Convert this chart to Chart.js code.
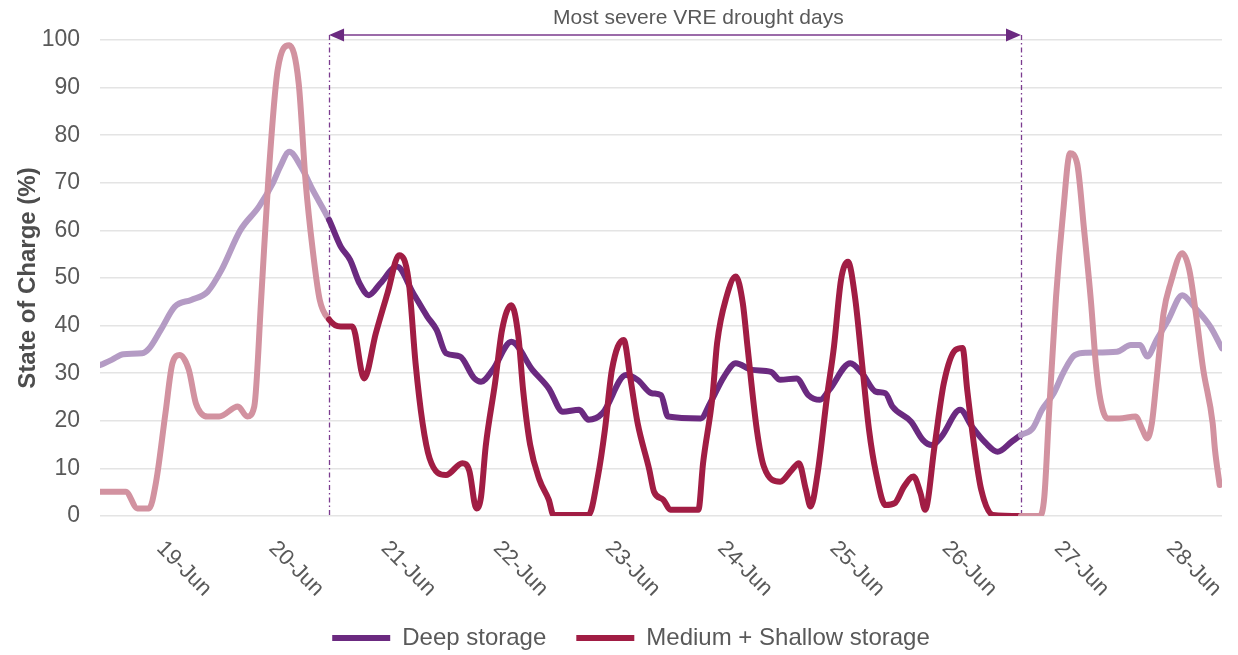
<!DOCTYPE html>
<html lang="en">
<head>
  <meta charset="UTF-8" />
  <title>Storage State of Charge</title>
  <script src="https://cdn.jsdelivr.net/npm/chart.js"></script>
  <style>
    body { margin: 0; background: #fff; }
    #wrap { width: 1238px; height: 655px; }
  </style>
</head>
<body>
  <div id="wrap"><canvas id="socChart"></canvas></div>

  <script>
    // x values are hours since the start of the window (18-Jun midday)
    const dayLabels = ['19-Jun', '20-Jun', '21-Jun', '22-Jun', '23-Jun', '24-Jun', '25-Jun', '26-Jun', '27-Jun', '28-Jun'];
    const dayTickHours = [12, 36, 60, 84, 108, 132, 156, 180, 204, 228];
    const yTicks = [0, 10, 20, 30, 40, 50, 60, 70, 80, 90, 100];

    const droughtStart = 49;
    const droughtEnd = 197;
    const droughtText = 'Most severe VRE drought days';
    const droughtTextHour = 128;

    const deepHours = [0, 2.5, 5, 9, 10.5, 13, 16, 19.5, 23, 26, 30, 34, 37, 38.5, 40.5, 43, 45.5, 49, 51.5, 53.5,
      55.5, 57.5, 60, 63.5, 67, 70, 72, 74, 77, 80, 81.5, 84, 88, 92.5, 96, 99, 102.5, 104.5, 107.5, 112.5,
      115, 118, 120, 121.5, 128.5, 130.5, 133.5, 136, 139.5, 143.5, 145.5, 149, 151.5, 154, 156, 160.5, 163, 166, 168, 169.5,
      173.5, 176, 178, 180, 184, 186.5, 189.5, 192, 195, 197, 199.5, 201.5, 204, 206, 208.5, 211, 217.5, 220.5, 222.5, 224,
      226, 228.5, 231.5, 234, 237.5, 240];
    const deepValues = [31.7, 32.8, 34, 34.2, 35.2, 39.1, 44, 45.4, 47.1, 51.7, 60, 65, 70, 73.3, 76.5, 73.4, 68.5, 62.2, 56.6, 53.8,
      48.9, 46.4, 48.9, 52.4, 46.8, 41.9, 39.1, 34.2, 33.5, 29, 28.2, 30.7, 36.6, 30.7, 26.8, 21.9, 22.3, 20.2, 21.6, 29.6,
      28.6, 25.8, 25.4, 20.9, 20.5, 23.7, 29.3, 32.1, 30.7, 30.3, 28.6, 28.9, 25.4, 24.4, 26.5, 32.1, 30, 26.1, 25.8, 23,
      19.8, 16, 14.9, 16.7, 22.3, 18.8, 15.3, 13.5, 15.6, 17, 18.4, 22.3, 25.8, 30, 33.8, 34.3, 34.5, 35.9, 35.9, 33.5,
      37, 41.2, 46.4, 44, 39.8, 35.2];

    const msHours = [0, 5.5, 8, 10.5, 12, 14, 15.5, 17, 19, 20.5, 23, 25.5, 29.5, 31.5, 33, 34.5, 36, 38, 40.5, 42.5,
      44, 45.5, 47, 49, 51.5, 54, 56.5, 59, 61.5, 64, 66, 67.5, 69, 70.5, 74, 77.5, 79, 80.5, 81.5, 82.5,
      84.5, 86, 88, 89.5, 90.5, 92, 94, 96, 97, 104.5, 106.5, 108, 109.5, 112, 113.5, 115, 117.5, 118.5, 120.5, 122,
      128, 129, 131, 132, 134, 136, 137.5, 138.5, 140.5, 142, 145.5, 148, 149.5, 151, 152, 153.5, 155.5, 157, 158.5, 160,
      161.5, 163, 164.5, 166, 168, 170, 172, 174, 175.5, 176.5, 178.5, 180.5, 183, 184.5, 185.5, 187, 188.5, 191, 197, 201,
      202, 203, 204.5, 206, 207.5, 209, 210.5, 212, 213, 214, 215.5, 218, 221.5, 223, 224, 225, 226, 227.5, 229, 231.5,
      233, 234.5, 236, 238, 238.5, 239.5];
    const msValues = [5.1, 5.1, 1.6, 1.6, 7.2, 21.6, 32.1, 33.8, 30.7, 23.7, 20.9, 20.9, 23, 20.9, 23, 46, 70.6, 93.7, 98.9, 90.9,
      70, 55.9, 45.4, 41.3, 39.8, 39.8, 28.9, 38.4, 46.8, 54.8, 49.6, 32.1, 19.5, 12.1, 8.6, 11.1, 9.5, 1.6, 4, 14.6,
      27.9, 39.1, 44.3, 37.7, 26.5, 15, 7.6, 3.4, 0.2, 0.2, 8.3, 18.1, 30.7, 37, 28.6, 19.5, 9.7, 5.1, 3.4, 1.3,
      1.3, 11.1, 25, 36.3, 46, 50.3, 44.7, 35.6, 18.1, 10.4, 7.2, 9.7, 11.1, 5.5, 2, 9, 25, 35.6, 49.6, 53.4,
      46, 32.1, 18.1, 9, 2.3, 2.7, 6.2, 8.3, 4.8, 1.3, 14.6, 27.9, 34.9, 35.3, 26.5, 14.6, 5.5, 0.2, 0, 0,
      4.1, 21.6, 46, 63.6, 76.2, 74.1, 60.1, 44.7, 32.1, 24.4, 20.5, 20.5, 20.9, 18.1, 16.3, 19.5, 28.6, 42.6, 48.9, 55.2,
      51.7, 41.9, 30.7, 19.5, 13.9, 6.5];

    const DEEP_DARK = '#6b2a80';
    const DEEP_LIGHT = '#b49bc4';
    const MS_DARK = '#a11d44';
    const MS_LIGHT = '#d292a0';
    const TEXT = '#595959';
    const FONT = '"Liberation Sans", Arial, sans-serif';

    function inDrought(ctx) {
      return ctx.p0.parsed.x >= droughtStart && ctx.p1.parsed.x <= droughtEnd;
    }

    // day labels under the axis, slanted down to the right
    const dayLabelPlugin = {
      id: 'dayLabels',
      afterDraw(chart) {
        const { ctx, scales: { x }, chartArea } = chart;
        ctx.save();
        ctx.font = '22px ' + FONT;
        ctx.fillStyle = TEXT;
        ctx.textAlign = 'left';
        ctx.textBaseline = 'middle';
        dayLabels.forEach((lbl, i) => {
          const px = x.getPixelForValue(dayTickHours[i]);
          ctx.save();
          ctx.translate(px + 4, chartArea.bottom + 29);
          ctx.rotate(Math.PI / 4);
          ctx.fillText(lbl, 0, 0);
          ctx.restore();
        });
        ctx.restore();
      }
    };

    // drought window: dotted verticals, double arrow and caption
    const droughtPlugin = {
      id: 'drought',
      beforeDatasetsDraw(chart) {
        const { ctx, scales: { x }, chartArea } = chart;
        ctx.save();
        ctx.strokeStyle = '#7b3b8f';
        ctx.lineWidth = 1.3;
        ctx.setLineDash([5, 3, 1.5, 3]);
        [droughtStart, droughtEnd].forEach(h => {
          const px = Math.round(x.getPixelForValue(h)) + 0.5;
          ctx.beginPath();
          ctx.moveTo(px, 35);
          ctx.lineTo(px, chartArea.bottom);
          ctx.stroke();
        });
        ctx.restore();
      },
      afterDraw(chart) {
        const { ctx, scales: { x } } = chart;
        const x1 = x.getPixelForValue(droughtStart);
        const x2 = x.getPixelForValue(droughtEnd);
        const y = 35;
        ctx.save();
        ctx.strokeStyle = '#7a3a8c';
        ctx.lineWidth = 1.5;
        ctx.beginPath();
        ctx.moveTo(x1 + 10, y);
        ctx.lineTo(x2 - 10, y);
        ctx.stroke();
        ctx.fillStyle = '#6b2a80';
        ctx.beginPath();
        ctx.moveTo(x1, y); ctx.lineTo(x1 + 15, y - 6.5); ctx.lineTo(x1 + 15, y + 6.5); ctx.closePath();
        ctx.fill();
        ctx.beginPath();
        ctx.moveTo(x2, y); ctx.lineTo(x2 - 15, y - 6.5); ctx.lineTo(x2 - 15, y + 6.5); ctx.closePath();
        ctx.fill();
        ctx.font = '21px ' + FONT;
        ctx.fillStyle = TEXT;
        ctx.textAlign = 'center';
        ctx.textBaseline = 'middle';
        ctx.fillText(droughtText, x.getPixelForValue(droughtTextHour), 18);
        ctx.restore();
      }
    };

    const ctx = document.getElementById('socChart').getContext('2d');
    new Chart(ctx, {
      type: 'line',
      data: {
        datasets: [
          {
            label: 'Deep storage',
            data: deepHours.map((h, i) => ({ x: h, y: deepValues[i] })),
            borderColor: DEEP_DARK,
            backgroundColor: DEEP_DARK,
            borderWidth: 6,
            pointRadius: 0,
            cubicInterpolationMode: 'monotone',
            borderCapStyle: 'round',
            borderJoinStyle: 'round',
            order: 1,
            segment: { borderColor: c => inDrought(c) ? DEEP_DARK : DEEP_LIGHT }
          },
          {
            label: 'Medium + Shallow storage',
            data: msHours.map((h, i) => ({ x: h, y: msValues[i] })),
            borderColor: MS_DARK,
            backgroundColor: MS_DARK,
            borderWidth: 6,
            pointRadius: 0,
            cubicInterpolationMode: 'monotone',
            borderCapStyle: 'round',
            borderJoinStyle: 'round',
            order: 0,
            segment: { borderColor: c => inDrought(c) ? MS_DARK : MS_LIGHT }
          }
        ]
      },
      options: {
        responsive: true,
        maintainAspectRatio: false,
        animation: false,
        events: [],
        layout: { padding: { top: 40, right: 16, left: 40, bottom: -5 } },
        plugins: {
          tooltip: { enabled: false },
          legend: {
            position: 'bottom',
            labels: {
              color: TEXT,
              font: { family: FONT, size: 24 },
              boxWidth: 58,
              boxHeight: 6,
              padding: 30,
              sort: (a, b) => a.datasetIndex - b.datasetIndex,
              generateLabels(chart) {
                return Chart.defaults.plugins.legend.labels.generateLabels(chart).map(item => {
                  item.lineWidth = 0;
                  return item;
                });
              }
            }
          }
        },
        scales: {
          x: {
            type: 'linear',
            min: 0,
            max: 240,
            grid: { display: false },
            border: { display: false },
            ticks: { display: false },
            afterFit(scale) { scale.height = 80; }
          },
          y: {
            min: 0,
            max: 100,
            afterBuildTicks(scale) { scale.ticks = yTicks.map(v => ({ value: v })); },
            grid: { color: '#e4e4e4', lineWidth: 1.6, drawTicks: false },
            border: { display: false },
            ticks: { color: TEXT, font: { family: FONT, size: 23 }, padding: 20 },
            title: {
              display: true,
              text: 'State of Charge (%)',
              color: '#4d4d4d',
              font: { family: FONT, size: 24, weight: 'bold' },
              padding: { top: -26.4, bottom: 0 }
            },
            afterFit(scale) { scale.width = 60; }
          }
        }
      },
      plugins: [droughtPlugin, dayLabelPlugin]
    });
  </script>
</body>
</html>
